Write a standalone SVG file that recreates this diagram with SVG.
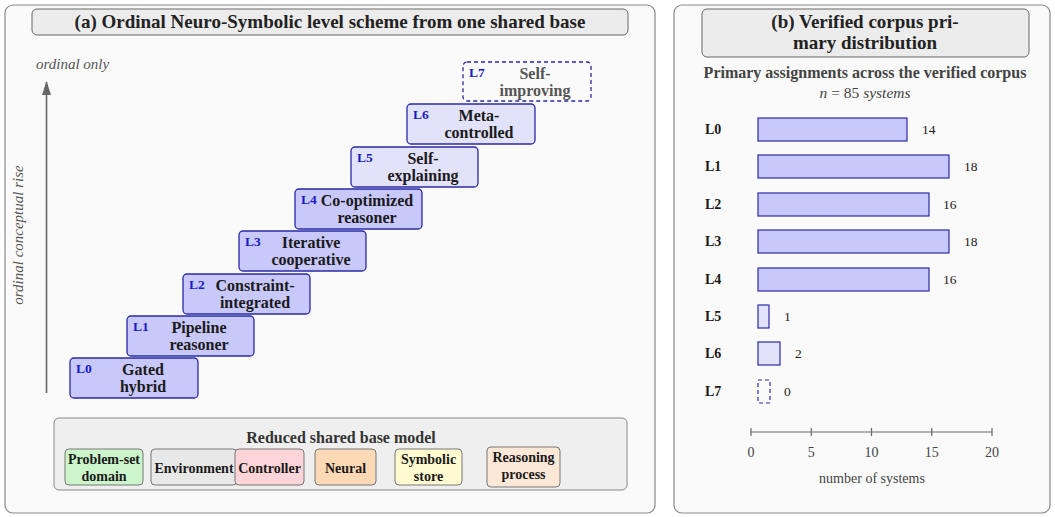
<svg xmlns="http://www.w3.org/2000/svg" width="1055" height="517" viewBox="0 0 1055 517" font-family="'Liberation Serif', 'DejaVu Serif', serif">
<style>
text{font-family:'Liberation Serif','DejaVu Serif',serif;}
.panel{fill:#fafafa;stroke:#8a8a8a;stroke-width:1.2;}
.ttl{fill:#ececec;stroke:#666;stroke-width:1;}
.ttlt{font-size:19px;font-weight:bold;fill:#222;text-anchor:middle;}
.lv{stroke:#2a2aa8;stroke-width:1.3;}
.lvA{fill:#c8c8fa;}
.lvB{fill:#e2e2fb;}
.lvC{fill:none;stroke-dasharray:4 3;}
.lid{font-size:13.5px;font-weight:bold;fill:#1a1ac8;}
.lname{font-size:16px;font-weight:bold;fill:#1a1a1a;text-anchor:middle;}
.gray{fill:#555;}
.chip{stroke:#777;stroke-width:1;}
.ct{font-size:14px;font-weight:bold;fill:#1a1a1a;text-anchor:middle;}
.bar{stroke:#2a2aa8;stroke-width:1.2;}
.rl{font-size:14px;font-weight:bold;fill:#1a1a1a;}
.val{font-size:13.5px;fill:#222;}
.ax{stroke:#666;stroke-width:1.2;}
.tk{font-size:14px;fill:#444;text-anchor:middle;}
</style>
<defs>
<marker id="ah" markerWidth="14" markerHeight="10" refX="13" refY="4.5" orient="auto" markerUnits="userSpaceOnUse"><path d="M0,0 L14,4.5 L0,9 Z" fill="#666"/></marker>
</defs>

<!-- Panel (a) -->
<g id="panelA">
<rect class="panel" x="5" y="5" width="650" height="508" rx="8"/>
<rect class="ttl" x="32" y="9" width="596" height="26" rx="5"/>
<text class="ttlt" x="330" y="28">(a) Ordinal Neuro-Symbolic level scheme from one shared base</text>
<text x="36" y="69" font-size="15" font-style="italic" fill="#555">ordinal only</text>
<text x="23" y="235" font-size="15" font-style="italic" fill="#555" text-anchor="middle" transform="rotate(-90 23 235)">ordinal conceptual rise</text>
</g>

<g id="connectors">
<line x1="46.5" y1="393" x2="46.5" y2="82" stroke="#666" stroke-width="1.6" marker-end="url(#ah)"/>
</g>

<g id="L0"><rect class="lv lvA" x="70" y="358" width="128" height="40" rx="4"/><text class="lid" x="76" y="373">L0</text><text class="lname" x="143" y="375">Gated</text><text class="lname" x="143" y="392">hybrid</text></g>
<g id="L1"><rect class="lv lvA" x="127" y="316" width="127" height="40" rx="4"/><text class="lid" x="133" y="331">L1</text><text class="lname" x="199" y="333">Pipeline</text><text class="lname" x="199" y="350">reasoner</text></g>
<g id="L2"><rect class="lv lvA" x="183" y="274" width="127" height="40" rx="4"/><text class="lid" x="189" y="289">L2</text><text class="lname" x="255" y="291">Constraint-</text><text class="lname" x="255" y="308">integrated</text></g>
<g id="L3"><rect class="lv lvA" x="239" y="231" width="127" height="40" rx="4"/><text class="lid" x="245" y="246">L3</text><text class="lname" x="311" y="248">Iterative</text><text class="lname" x="311" y="265">cooperative</text></g>
<g id="L4"><rect class="lv lvA" x="295" y="189" width="127" height="40" rx="4"/><text class="lid" x="301" y="204">L4</text><text class="lname" x="367" y="206">Co-optimized</text><text class="lname" x="367" y="223">reasoner</text></g>
<g id="L5"><rect class="lv lvB" x="351" y="147" width="127" height="40" rx="4"/><text class="lid" x="357" y="162">L5</text><text class="lname" x="423" y="164">Self-</text><text class="lname" x="423" y="181">explaining</text></g>
<g id="L6"><rect class="lv lvB" x="407" y="104" width="128" height="40" rx="4"/><text class="lid" x="413" y="119">L6</text><text class="lname" x="479" y="121">Meta-</text><text class="lname" x="479" y="138">controlled</text></g>
<g id="L7"><rect class="lv lvC" x="463" y="62" width="128" height="39" rx="4"/><text class="lid" x="469" y="77">L7</text><text class="lname gray" x="535" y="79">Self-</text><text class="lname gray" x="535" y="96">improving</text></g>

<g id="baseModel">
<rect x="54" y="418" width="573" height="72" rx="5" fill="#efefef" stroke="#888" stroke-width="1"/>
<text x="341" y="443" font-size="16" font-weight="bold" fill="#333" text-anchor="middle">Reduced shared base model</text>
</g>
<g id="chipDomain"><rect class="chip" x="65" y="449" width="78" height="36" rx="4" fill="#ccf5cc"/><text class="ct" x="104" y="464">Problem-set</text><text class="ct" x="104" y="481">domain</text></g>
<g id="chipEnv"><rect class="chip" x="151" y="449" width="86" height="36" rx="4" fill="#e8e8e8"/><text class="ct" x="194" y="473">Environment</text></g>
<g id="chipCtrl"><rect class="chip" x="235" y="449" width="69" height="36" rx="4" fill="#fdd5d8"/><text class="ct" x="269.5" y="473">Controller</text></g>
<g id="chipNeural"><rect class="chip" x="315" y="449" width="61" height="36" rx="4" fill="#fdd9b5"/><text class="ct" x="345.5" y="473">Neural</text></g>
<g id="chipSym"><rect class="chip" x="395" y="449" width="67" height="36" rx="4" fill="#fffad0"/><text class="ct" x="428.5" y="464">Symbolic</text><text class="ct" x="428.5" y="481">store</text></g>
<g id="chipReason"><rect class="chip" x="487" y="447" width="73" height="40" rx="4" fill="#fde8d8"/><text class="ct" x="523.5" y="462">Reasoning</text><text class="ct" x="523.5" y="479">process</text></g>

<!-- Panel (b) -->
<g id="panelB">
<rect class="panel" x="674" y="5" width="376" height="508" rx="8"/>
<rect class="ttl" x="702" y="9" width="327" height="48" rx="5"/>
<text class="ttlt" x="865" y="28">(b) Verified corpus pri-</text>
<text class="ttlt" x="865" y="49">mary distribution</text>
<text x="865" y="78" font-size="16" font-weight="bold" fill="#444" text-anchor="middle">Primary assignments across the verified corpus</text>
<text x="865" y="98" font-size="15.5" fill="#444" text-anchor="middle"><tspan font-style="italic">n</tspan> = 85 <tspan font-style="italic">systems</tspan></text>
</g>

<g id="bars">
<text class="rl" x="705" y="134">L0</text><rect class="bar lvA" x="758" y="118" width="149" height="23"/><text class="val" x="922" y="134">14</text>
<text class="rl" x="705" y="171">L1</text><rect class="bar lvA" x="758" y="155" width="191" height="23"/><text class="val" x="964" y="171">18</text>
<text class="rl" x="705" y="209">L2</text><rect class="bar lvA" x="758" y="193" width="171" height="23"/><text class="val" x="943" y="209">16</text>
<text class="rl" x="705" y="246">L3</text><rect class="bar lvA" x="758" y="230" width="191" height="23"/><text class="val" x="964" y="246">18</text>
<text class="rl" x="705" y="284">L4</text><rect class="bar lvA" x="758" y="268" width="171" height="23"/><text class="val" x="943" y="284">16</text>
<text class="rl" x="705" y="321">L5</text><rect class="bar lvB" x="758" y="305" width="11" height="23"/><text class="val" x="784" y="321">1</text>
<text class="rl" x="705" y="358">L6</text><rect class="bar lvB" x="758" y="342" width="22" height="23"/><text class="val" x="795" y="358">2</text>
<text class="rl" x="705" y="396">L7</text><rect class="bar" x="758" y="380" width="12" height="23" fill="none" stroke-dasharray="4 3"/><text class="val" x="784" y="396" fill="#888">0</text>
</g>

<g id="axis">
<line class="ax" x1="751" y1="432" x2="992" y2="432"/>
<line class="ax" x1="751" y1="428" x2="751" y2="436"/>
<line class="ax" x1="811.25" y1="428" x2="811.25" y2="436"/>
<line class="ax" x1="871.5" y1="428" x2="871.5" y2="436"/>
<line class="ax" x1="931.75" y1="428" x2="931.75" y2="436"/>
<line class="ax" x1="992" y1="428" x2="992" y2="436"/>
<text class="tk" x="751" y="457">0</text>
<text class="tk" x="811.25" y="457">5</text>
<text class="tk" x="871.5" y="457">10</text>
<text class="tk" x="931.75" y="457">15</text>
<text class="tk" x="992" y="457">20</text>
<text class="tk" x="872" y="483" font-size="15.5">number of systems</text>
</g>
</svg>
